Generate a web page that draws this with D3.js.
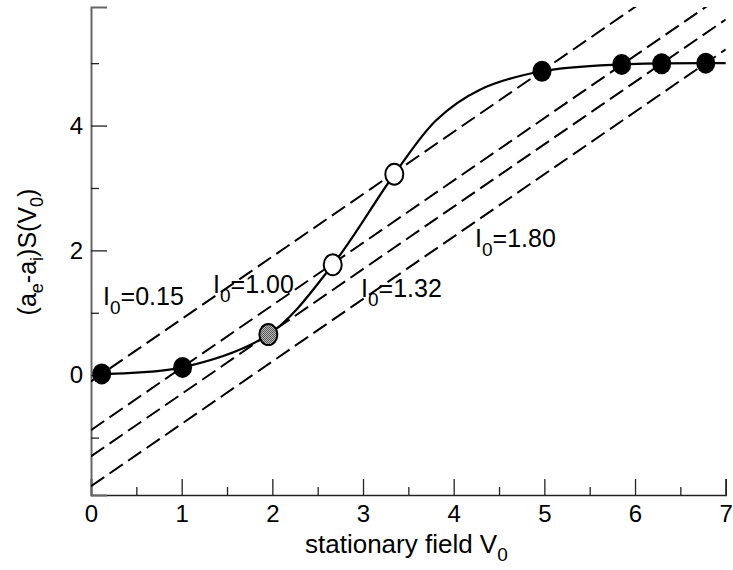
<!DOCTYPE html>
<html><head><meta charset="utf-8">
<script src="https://cdn.jsdelivr.net/npm/d3@7"></script>
<style>body{margin:0;background:#fff}svg{display:block}text{font-family:"Liberation Sans",Arial,sans-serif}</style>
</head><body><svg id="c" width="733" height="570"></svg>
<script>
// measured points
const ptX = [0.118, 1.01, 1.956, 2.666, 3.345, 4.974, 5.853, 6.294, 6.78];
const ptY = [0.02, 0.125, 0.65, 1.77, 3.22, 4.87, 4.98, 4.99, 5.0];
const ptType = ["filled","filled","gray","open","open","filled","filled","filled","filled"];
// smooth fitted curve
const curveX = [0.118, 1.01, 1.956, 2.666, 3.345, 3.81, 4.29, 4.974, 5.853, 7.0];
const curveY = [0.02, 0.125, 0.65, 1.77, 3.22, 4.09, 4.575, 4.87, 4.98, 5.0];
// dashed lines y = slope*x + intercept
const lineNames = ["0.15", "1.00", "1.32", "1.80"];
const lineIntercepts = [-0.1, -0.88, -1.3, -1.78];
const lineSlope = 1.0;
const xTicks = [0,1,2,3,4,5,6,7];
const xMinor = [0.5,1.5,2.5,3.5,4.5,5.5,6.5];
const yTicks = [0,2,4];
const yMinor = [-1,1,3,5];

const svg = d3.select("#c");
const x = d3.scaleLinear().domain([0,7]).range([91,725.7]);
const y = d3.scaleLinear().domain([-1.92,5.9]).range([495,7]);

svg.append("defs").append("clipPath").attr("id","clip")
  .append("rect").attr("x",x(0)).attr("y",y(5.9)).attr("width",x(7)-x(0)).attr("height",y(-1.92)-y(5.9));
const pat = svg.select("defs").append("pattern").attr("id","dots").attr("width",2).attr("height",2).attr("patternUnits","userSpaceOnUse");
pat.append("rect").attr("width",2).attr("height",2).attr("fill","#bbb");
pat.append("rect").attr("width",1).attr("height",1).attr("fill","#555");
pat.append("rect").attr("x",1).attr("y",1).attr("width",1).attr("height",1).attr("fill","#555");

// axes
const gx = svg.append("g").attr("transform",`translate(0,${y(-1.92)})`);
gx.call(d3.axisBottom(x).tickValues(xTicks).tickSize(-16).tickPadding(10).tickFormat(d3.format("d")));
gx.append("g").call(d3.axisBottom(x).tickValues(xMinor).tickSize(-8).tickFormat(""));
gx.selectAll(".domain").attr("stroke","#222").attr("stroke-width",1.6);
gx.selectAll(".tick line").attr("stroke","#222").attr("stroke-width",1.3);
gx.selectAll("text").attr("font-size",24).attr("fill","#000");
gx.selectAll(".domain").filter((d,i,n)=>n[i].parentNode!==gx.node()).remove();

const gy = svg.append("g").attr("transform",`translate(${x(0)},0)`);
gy.call(d3.axisLeft(y).tickValues(yTicks).tickSize(-16).tickPadding(8).tickFormat(d3.format("d")));
gy.append("g").call(d3.axisLeft(y).tickValues(yMinor).tickSize(-8).tickFormat(""));
gy.selectAll(".domain").attr("stroke","#666").attr("stroke-width",2);
gy.selectAll(".tick line").attr("stroke","#222").attr("stroke-width",1.3);
gy.selectAll("text").attr("font-size",24).attr("fill","#000");
gy.selectAll(".domain").filter((d,i,n)=>n[i].parentNode!==gy.node()).remove();

// dashed lines
const plot = svg.append("g").attr("clip-path","url(#clip)");
lineIntercepts.forEach(b=>{
  plot.append("line")
    .attr("x1",x(0)).attr("y1",y(lineSlope*0+b))
    .attr("x2",x(7)).attr("y2",y(lineSlope*7+b))
    .attr("stroke","#000").attr("stroke-width",2).attr("stroke-dasharray","16,6.5");
});

// fitted curve
const cdata = curveX.map((v,i)=>[v,curveY[i]]);
svg.append("path").datum(cdata)
  .attr("d",d3.line().x(d=>x(d[0])).y(d=>y(d[1])).curve(d3.curveCatmullRom.alpha(0.5)))
  .attr("fill","none").attr("stroke","#000").attr("stroke-width",2.2);

// points
ptX.forEach((v,i)=>{
  const t = ptType[i];
  svg.append("ellipse").attr("cx",x(v)).attr("cy",y(ptY[i])).attr("rx",t==="filled"?9.5:9).attr("ry",10.5)
    .attr("fill",t==="filled"?"#000":t==="gray"?"url(#dots)":"#fff")
    .attr("stroke","#000").attr("stroke-width",t==="filled"?0:2);
});

// line labels
const labelPos = [[103,305],[213,293],[361,297],[475,247]];
lineNames.forEach((n,i)=>{
  const t = svg.append("text").attr("x",labelPos[i][0]).attr("y",labelPos[i][1]).attr("font-size",25);
  t.append("tspan").text("I");
  t.append("tspan").attr("font-size",19).attr("dy",9).text("0");
  t.append("tspan").attr("dy",-9).text("=" + n);
});

// axis titles
const xt = svg.append("text").attr("x",305).attr("y",553).attr("font-size",26);
xt.append("tspan").text("stationary field V");
xt.append("tspan").attr("font-size",19).attr("dy",8).text("0");

const yt = svg.append("text").attr("transform","translate(36,252) rotate(-90)").attr("text-anchor","middle").attr("font-size",25);
yt.append("tspan").text("(a");
yt.append("tspan").attr("font-size",18).attr("dy",7).text("e");
yt.append("tspan").attr("dy",-7).text("-a");
yt.append("tspan").attr("font-size",18).attr("dy",7).text("i");
yt.append("tspan").attr("dy",-7).text(")S(V");
yt.append("tspan").attr("font-size",18).attr("dy",7).text("0");
yt.append("tspan").attr("dy",-7).text(")");
</script></body></html>
